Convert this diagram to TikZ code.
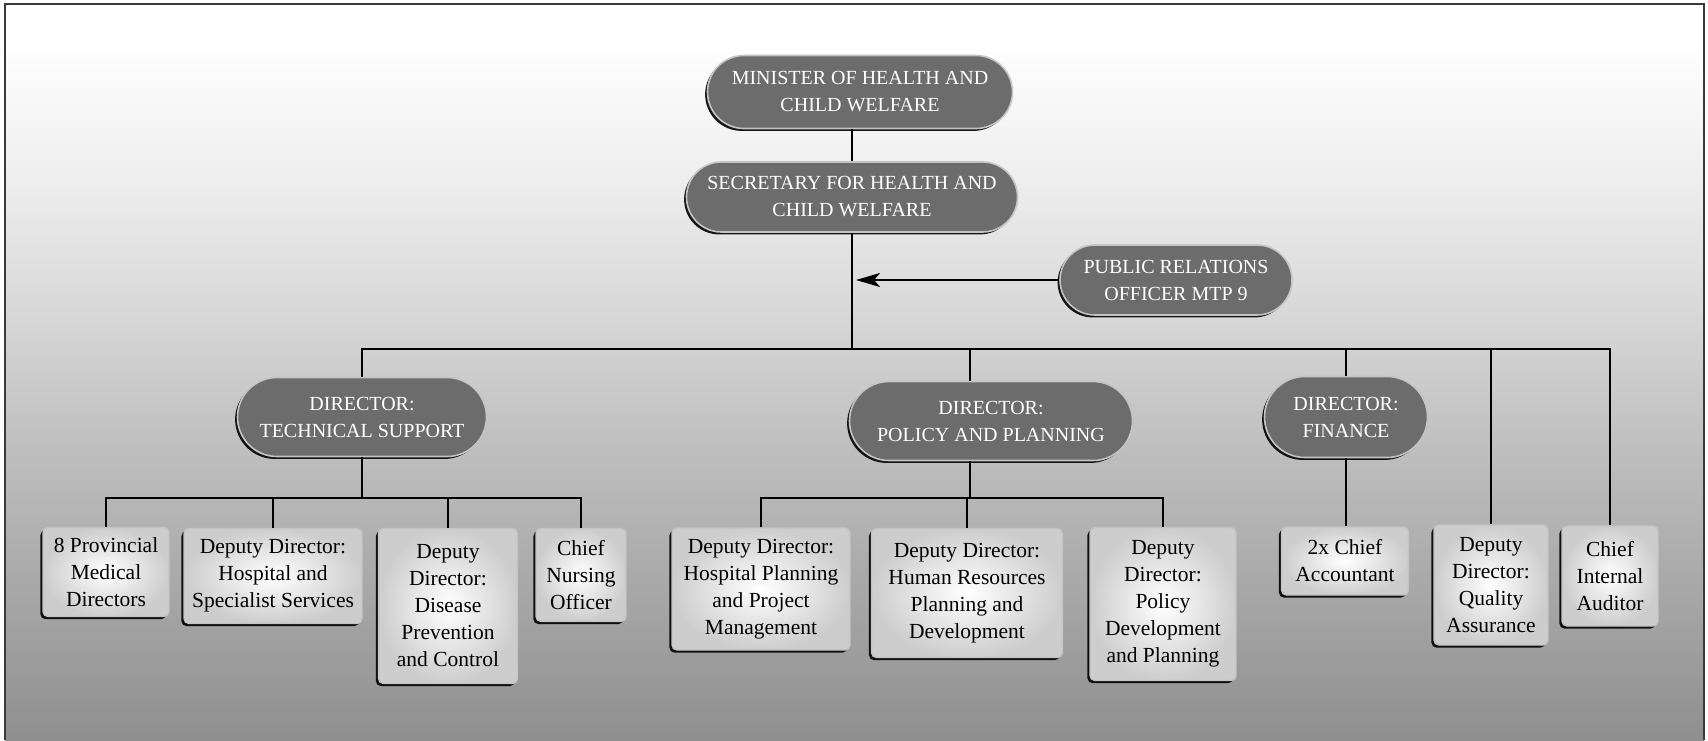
\documentclass[tikz,border=0pt]{standalone}
\usepackage{fontspec}
\setmainfont{Liberation Serif}
\newfontfamily\orgserif{Liberation Serif}
\usetikzlibrary{shapes.misc,shadows,arrows.meta}
\definecolor{pillgray}{HTML}{6C6C6C}
\definecolor{pillrim}{HTML}{C4C4C4}
\definecolor{boxedge}{HTML}{CDCDCD}
\definecolor{bgA}{HTML}{EEEEEE}
\definecolor{bgB}{HTML}{DADADA}
\definecolor{bgC}{HTML}{C0C0C0}
\definecolor{bgD}{HTML}{8F8F8F}
\definecolor{framegray}{HTML}{3A3A3A}

\begin{document}
\begin{tikzpicture}[x=1pt,y=-1pt,
  pill/.style={rounded rectangle, fill=pillgray, draw=pillrim, line width=1.6pt,
    text=white, inner sep=0pt, align=center, font=\orgserif\fontsize{20}{27}\selectfont,
    drop shadow={shadow xshift=-2.4pt, shadow yshift=-2.4pt, fill=black, opacity=0.9}},
  post/.style={rectangle, rounded corners=5pt, inner color=white, outer color=boxedge,
    draw=pillrim, line width=1.4pt, inner sep=0pt, align=center,
    font=\orgserif\fontsize{21.5}{27}\selectfont,
    drop shadow={shadow xshift=-2.6pt, shadow yshift=-2.6pt, fill=black, opacity=0.9}},
  link/.style={line width=2.4pt, black}
]
% canvas and backdrop
\useasboundingbox (0,0) rectangle (1708,740);
\fill[white] (0,0) rectangle (1708,740);
\shade[top color=white, bottom color=bgA] (5,40) rectangle (1704,180);
\shade[top color=bgA, bottom color=bgB] (5,180) rectangle (1704,300);
\shade[top color=bgB, bottom color=bgC] (5,300) rectangle (1704,440);
\shade[top color=bgC, bottom color=bgD] (5,440) rectangle (1704,740);
\draw[framegray, line width=2pt] (5,740) -- (5,4) -- (1704,4) -- (1704,740);

% bus levels
\coordinate (bus) at (0,349);
\coordinate (tsbus) at (0,498);
\coordinate (polbus) at (0,498);
\coordinate (poldrop) at (970,349);

% leadership
\node[pill, minimum width=305pt, minimum height=73pt] (min) at (860,92)
  {MINISTER OF HEALTH AND\\CHILD WELFARE};
\node[pill, minimum width=331pt, minimum height=70pt] (sec) at (852,197)
  {SECRETARY FOR HEALTH AND\\CHILD WELFARE};
\node[pill, minimum width=232pt, minimum height=70pt] (pr) at (1176,280)
  {PUBLIC RELATIONS\\OFFICER MTP 9};

% directors
\node[pill, minimum width=249pt, minimum height=79pt] (ts) at (362,417)
  {DIRECTOR:\\TECHNICAL SUPPORT};
\node[pill, minimum width=283pt, minimum height=79pt] (pol) at (991,421)
  {DIRECTOR:\\POLICY AND PLANNING};
\node[pill, minimum width=163pt, minimum height=81pt] (fin) at (1346,417)
  {DIRECTOR:\\FINANCE};

% posts under technical support
\node[post, minimum width=126pt, minimum height=89pt] (b1) at (106,572)
  {8 Provincial\\Medical\\Directors};
\node[post, minimum width=178pt, minimum height=95pt] (b2) at (273,576)
  {Deputy Director:\\Hospital and\\Specialist Services};
\node[post, minimum width=139pt, minimum height=155pt] (b3) at (448,606)
  {Deputy\\Director:\\Disease\\Prevention\\and Control};
\node[post, minimum width=90pt, minimum height=93pt] (b4) at (581,575)
  {Chief\\Nursing\\Officer};

% posts under policy and planning
\node[post, minimum width=178pt, minimum height=122pt] (b5) at (761,589)
  {Deputy Director:\\Hospital Planning\\and Project\\Management};
\node[post, minimum width=191pt, minimum height=129pt] (b6) at (967,593)
  {Deputy Director:\\Human Resources\\Planning and\\Development};
\node[post, minimum width=146pt, minimum height=153pt] (b7) at (1163,604)
  {Deputy\\Director:\\Policy\\Development\\and Planning};

% posts under finance and direct reports
\node[post, minimum width=127pt, minimum height=68pt] (b8) at (1345,561)
  {2x Chief\\Accountant};
\node[post, minimum width=114pt, minimum height=120pt] (b9) at (1491,585)
  {Deputy\\Director:\\Quality\\Assurance};
\node[post, minimum width=96pt, minimum height=100pt] (b10) at (1610,576)
  {Chief\\Internal\\Auditor};

% connectors
\draw[link] (min.south -| sec.north) -- (sec.north);
\draw[link] (sec.south) -- (sec.south |- bus);
\draw[link] (ts.north) -- (ts.north |- bus) -- (b10.north |- bus) -- (b10.north);
\draw[link] (poldrop) -- (poldrop |- pol.north);
\draw[link] (fin.north |- bus) -- (fin.north);
\draw[link] (b9.north |- bus) -- (b9.north);
\draw[link, -{Stealth[length=24pt, width=14pt, inset=6pt]}, shorten >=4pt]
  (pr.west) -- (pr.west -| sec.south);

\draw[link] (ts.south) -- (ts.south |- tsbus);
\draw[link] (b1.north) -- (b1.north |- tsbus) -- (b4.north |- tsbus) -- (b4.north);
\draw[link] (b2.north |- tsbus) -- (b2.north);
\draw[link] (b3.north |- tsbus) -- (b3.north);

\draw[link] (poldrop |- pol.south) -- (poldrop |- polbus);
\draw[link] (b5.north) -- (b5.north |- polbus) -- (b7.north |- polbus) -- (b7.north);
\draw[link] (b6.north |- polbus) -- (b6.north);

\draw[link] (fin.south) -- (fin.south |- b8.north);
\end{tikzpicture}
\end{document}
